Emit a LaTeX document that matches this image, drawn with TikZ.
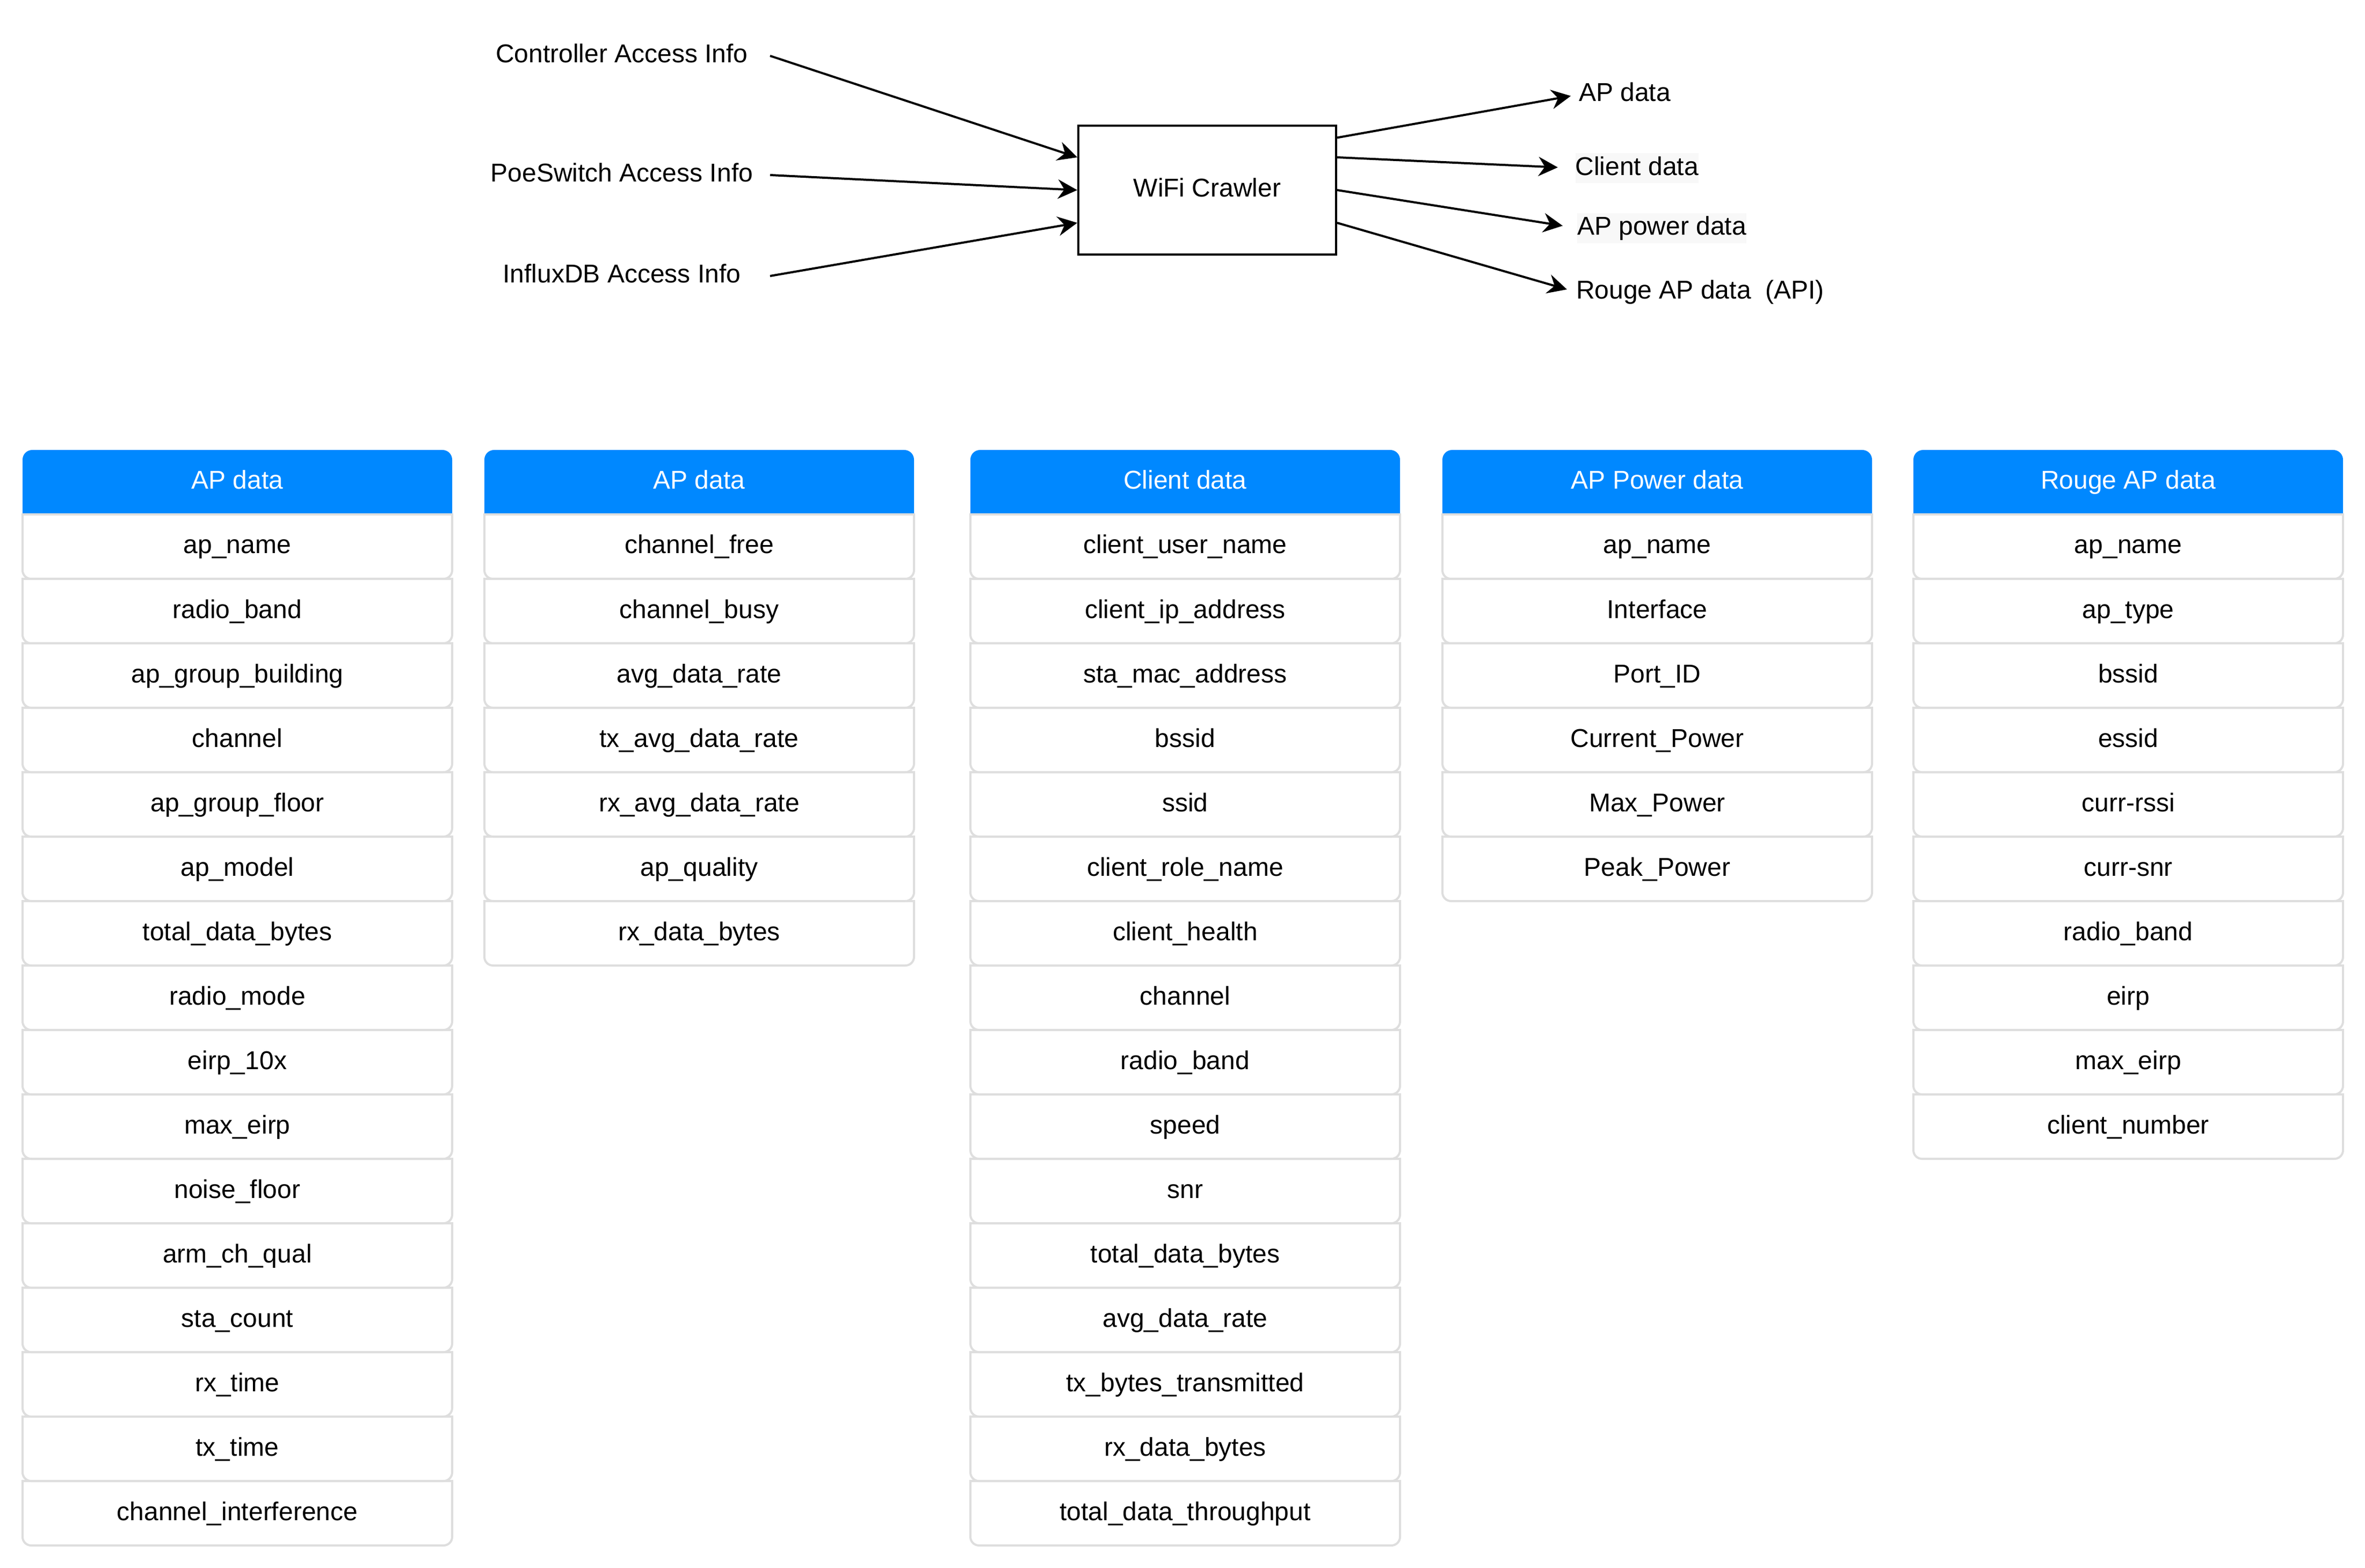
\documentclass[tikz,border=0pt]{standalone}
\usepackage{fontspec}
\setmainfont{Liberation Sans}
\usepackage{tikz}
\usetikzlibrary{arrows.meta,calc,positioning}

\definecolor{headblue}{RGB}{0,136,255}
\definecolor{cellgrey}{RGB}{222,222,222}
\definecolor{labelbg}{RGB}{248,248,248}

% one table: name, left edge, title, rows
\newcommand{\datatable}[4]{
  \fill[headblue] (#2,239.5) -- (#2,214) arc[start angle=180,end angle=90,radius=4.5pt]
    -- (#2+195.5,209.5) arc[start angle=90,end angle=0,radius=4.5pt] -- (#2+200,239.5) -- cycle;
  \node[tabhead] (#1-0) at (#2+100,224.5) {#3};
  \foreach \fld [count=\i] in {#4} {
    \node[tabcell] (#1-\i) at (#2+100,224.5+30*\i) {\fld};
    \draw[cellline] (#1-\i.north west) -- ([yshift=4pt]#1-\i.south west)
      arc[start angle=180,end angle=270,radius=4pt] -- ([xshift=-4pt]#1-\i.south east)
      arc[start angle=270,end angle=360,radius=4pt] -- (#1-\i.north east) -- cycle;
  }
}

\begin{document}
\begin{tikzpicture}[x=1pt,y=-1pt,
  font=\fontsize{12}{14.4}\selectfont,
  tabcell/.style={minimum width=200pt,minimum height=30pt,inner sep=0pt,outer sep=0pt,
    text height=9pt,text depth=2.5pt},
  tabhead/.style={tabcell,text=white},
  cellline/.style={draw=cellgrey,line width=1pt},
  crawlbox/.style={draw,line width=1pt,minimum width=120pt,minimum height=60pt,
    text height=9pt,text depth=2.5pt},
  srclabel/.style={minimum width=138pt,inner sep=0pt,outer sep=0pt,text height=9pt,text depth=2.5pt},
  dstlabel/.style={anchor=west,inner xsep=0pt,inner ysep=1.25pt,outer sep=0pt,
    text height=9pt,text depth=2.5pt},
  flow/.style={-{Stealth[length=9pt,width=9pt,inset=3pt]},line width=1pt}]
\useasboundingbox (0,0) rectangle (1101,730);

% crawler and its in- and outputs
\node[crawlbox] (crawler) at (562,88.5) {WiFi Crawler};

\node[srclabel] (ctrl) at (289.5,26) {Controller Access Info};
\node[srclabel] (poe) at (289.5,81.5) {PoeSwitch Access Info};
\node[srclabel] (influx) at (289.5,128.5) {InfluxDB Access Info};

\node[dstlabel] (apout) at (735,44) {AP data};
\node[dstlabel,fill=labelbg] (clientout) at (733.4,78.3) {Client data};
\node[dstlabel,fill=labelbg] (powerout) at (734.3,106.2) {AP power data};
\node[dstlabel] (rougeout) at (733.8,136) {Rouge AP data~ (API)};

\draw[flow] (ctrl.east) -- ($(crawler.north west)!0.25!(crawler.south west)$);
\draw[flow] (poe.east) -- (crawler.west);
\draw[flow] (influx.east) -- ($(crawler.north west)!0.75!(crawler.south west)$);

\draw[flow,shorten >=3.8pt] ($(crawler.north east)!0.1!(crawler.south east)$) -- (apout.west);
\draw[flow,shorten >=8.2pt] ($(crawler.north east)!0.25!(crawler.south east)$) -- (clientout.west);
\draw[flow,shorten >=6.9pt] (crawler.east) -- (powerout.west);
\draw[flow,shorten >=4.5pt] ($(crawler.north east)!0.75!(crawler.south east)$) -- (rougeout.west);

% the five tables
\datatable{apdata}{10.5}{AP data}{ap\_name,radio\_band,ap\_group\_building,channel,
  ap\_group\_floor,ap\_model,total\_data\_bytes,radio\_mode,eirp\_10x,max\_eirp,
  noise\_floor,arm\_ch\_qual,sta\_count,rx\_time,tx\_time,channel\_interference}
\datatable{apmore}{225.5}{AP data}{channel\_free,channel\_busy,avg\_data\_rate,
  tx\_avg\_data\_rate,rx\_avg\_data\_rate,ap\_quality,rx\_data\_bytes}
\datatable{client}{451.75}{Client data}{client\_user\_name,client\_ip\_address,
  sta\_mac\_address,bssid,ssid,client\_role\_name,client\_health,channel,radio\_band,
  speed,snr,total\_data\_bytes,avg\_data\_rate,tx\_bytes\_transmitted,rx\_data\_bytes,
  total\_data\_throughput}
\datatable{power}{671.5}{AP Power data}{ap\_name,Interface,Port\_ID,Current\_Power,
  Max\_Power,Peak\_Power}
\datatable{rouge}{890.75}{Rouge AP data}{ap\_name,ap\_type,bssid,essid,curr-rssi,
  curr-snr,radio\_band,eirp,max\_eirp,client\_number}
\end{tikzpicture}
\end{document}
